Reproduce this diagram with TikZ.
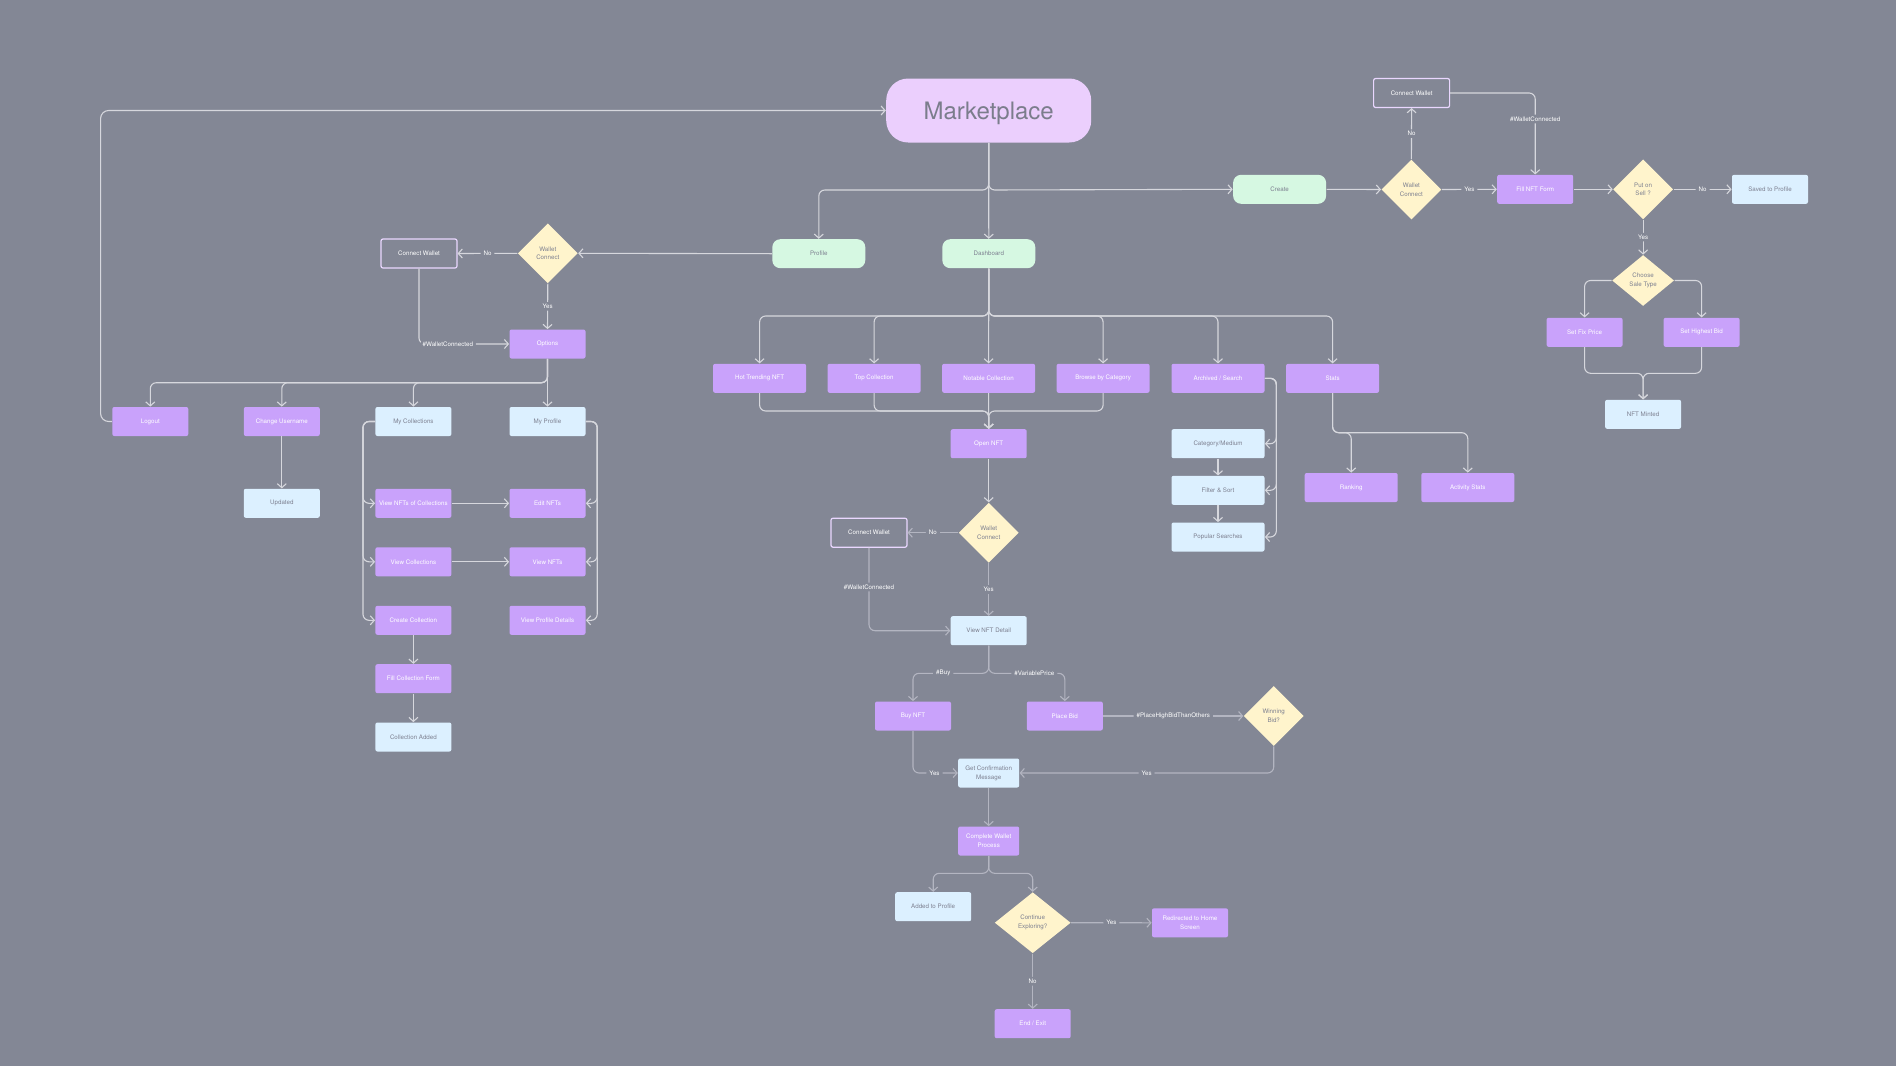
\documentclass[tikz,border=0pt]{standalone}
\usepackage{fontspec}
\setmainfont{TeX Gyre Heros}
\usetikzlibrary{shapes.geometric,arrows.meta}
\definecolor{bgc}{HTML}{838795}
\definecolor{purp}{HTML}{C9A2FB}
\definecolor{lblue}{HTML}{DCF0FF}
\definecolor{lgreen}{HTML}{D6F8E2}
\definecolor{lyel}{HTML}{FFF4CC}
\definecolor{mktfill}{HTML}{EBCFFD}
\definecolor{mkttext}{HTML}{7B7D8C}
\definecolor{tgray}{HTML}{7D8090}
\definecolor{lcol}{HTML}{D6D7DD}
\definecolor{dcol}{HTML}{B3B5C1}
\definecolor{lav}{HTML}{EAD7FF}
\begin{document}
\begin{tikzpicture}[x=0.5pt,y=-0.5pt,
  every node/.style={font=\fontsize{3.1}{4.4}\selectfont, align=center, inner sep=0pt},
  nbox/.style={rectangle, rounded corners=1pt, minimum width=38pt, minimum height=14.5pt},
  wbox/.style={minimum width=46.5pt},
  pbox/.style={nbox, fill=purp, text=white},
  bbox/.style={nbox, fill=lblue, text=tgray},
  gbox/.style={nbox, fill=lgreen, text=tgray, rounded corners=4pt, minimum width=46.5pt},
  obox/.style={nbox, draw=lav, line width=0.6pt, text=white},
  dia/.style={diamond, fill=lyel, text=tgray, minimum width=30pt, minimum height=30pt},
  conn/.style={draw=lcol, line width=0.55pt, rounded corners=3pt, -{Straight Barb[length=2pt,width=4.5pt]}},
  dconn/.style={conn, draw=dcol},
  lbl/.style={fill=bgc, text=white, inner xsep=1.5pt, inner ysep=1pt},
]
\fill[bgc] (0,0) rectangle (1896,1066);
\useasboundingbox (0,0) rectangle (1896,1066);

% ---------- nodes ----------
\node[fill=mktfill, rounded corners=11pt, minimum width=102.5pt, minimum height=32pt, text=mkttext, text depth=0pt, font=\fontsize{12}{14}\selectfont] (mkt) at (988.7,110.5) {Marketplace};

\node[gbox] (profile) at (818.8,253.7) {Profile};
\node[gbox] (dash) at (988.8,253.7) {Dashboard};
\node[gbox] (create) at (1279.6,189.3) {Create};

% profile branch
\node[dia] (wcL) at (547.8,253.3) {Wallet\\Connect};
\node[obox] (cwL) at (419,253.5) {Connect Wallet};
\node[pbox] (opt) at (547.5,344) {Options};
\node[pbox] (logout) at (150.3,421.5) {Logout};
\node[pbox] (change) at (281.8,421.5) {Change Username};
\node[bbox] (mycol) at (413.4,421.5) {My Collections};
\node[bbox] (myprof) at (547.5,421.5) {My Profile};
\node[bbox] (updated) at (281.8,503.3) {Updated};
\node[pbox] (vnoc) at (413.4,503.3) {View NFTs of Collections};
\node[pbox] (editnft) at (547.5,503.3) {Edit NFTs};
\node[pbox] (vcol) at (413.4,561.8) {View Collections};
\node[pbox] (viewnft) at (547.5,561.8) {View NFTs};
\node[pbox] (ccol) at (413.4,620.3) {Create Collection};
\node[pbox] (vprof) at (547.5,620.3) {View Profile Details};
\node[pbox] (fillcol) at (413.4,678.7) {Fill Collection Form};
\node[bbox] (coladd) at (413.4,737) {Collection Added};

% dashboard branch
\node[pbox,wbox] (hot) at (759.6,378.3) {Hot Trending NFT};
\node[pbox,wbox] (topc) at (874.1,378.3) {Top Collection};
\node[pbox,wbox] (notable) at (988.6,378.3) {Notable Collection};
\node[pbox,wbox] (browse) at (1103.1,378.3) {Browse by Category};
\node[pbox,wbox] (arch) at (1218,378.3) {Archived / Search};
\node[pbox,wbox] (stats) at (1332.6,378.3) {Stats};
\node[pbox] (open) at (988.7,443.7) {Open NFT};
\node[dia] (wcM) at (988.7,532.7) {Wallet\\Connect};
\node[obox] (cwM) at (869,532.7) {Connect Wallet};
\node[bbox] (vnd) at (988.7,630.7) {View NFT Detail};
\node[bbox,wbox] (catmed) at (1218,443.7) {Category/Medium};
\node[bbox,wbox] (filter) at (1218,490.3) {Filter \& Sort};
\node[bbox,wbox] (popular) at (1218,537) {Popular Searches};
\node[pbox,wbox] (ranking) at (1351.2,487.5) {Ranking};
\node[pbox,wbox] (activity) at (1467.8,487.5) {Activity Stats};

% create branch
\node[obox] (cwTR) at (1411.6,93) {Connect Wallet};
\node[dia] (wcTR) at (1411.4,189.5) {Wallet\\Connect};
\node[pbox] (fill) at (1535.2,189.3) {Fill NFT Form};
\node[dia] (putsell) at (1643.1,189.3) {Put on\\Sell ?};
\node[bbox] (saved) at (1770,189.3) {Saved to Profile};
\node[dia, minimum width=31pt, minimum height=25.5pt] (choose) at (1643.1,280.5) {Choose\\Sale Type};
\node[pbox] (setfix) at (1584.6,332.3) {Set Fix Price};
\node[pbox] (sethigh) at (1701.6,332.3) {Set Highest Bid};
\node[bbox] (minted) at (1643.1,414.3) {NFT Minted};

% buying flow
\node[pbox] (buy) at (913,716) {Buy NFT};
\node[pbox] (bid) at (1064.8,716) {Place Bid};
\node[dia] (win) at (1273.7,716) {Winning\\Bid?};
\node[bbox, minimum width=30.5pt] (getconf) at (988.7,773) {Get Confirmation\\Message};
\node[pbox, minimum width=30.5pt] (cwp) at (988.7,841) {Complete Wallet\\Process};
\node[bbox] (added) at (933.2,906.7) {Added to Profile};
\node[dia, minimum width=38pt, minimum height=30.5pt] (cont) at (1032.7,922.7) {Continue\\Exploring?};
\node[pbox] (redirect) at (1190,922.8) {Redirected to Home\\Screen};
\node[pbox] (endx) at (1032.7,1023.7) {End / Exit};

% ---------- connectors ----------
\coordinate (loopc) at (100.6,110.5);
\draw[conn, rounded corners=4pt] (logout.west) -| (loopc) -- (mkt.west);

\coordinate (mj) at (988.7,190);
\draw[conn] (mkt.south) -- (mj) -| (profile.north);
\draw[conn] (mkt.south) -- (dash.north);
\draw[conn] (mkt.south) -- (mj) -- (create.west);

\draw[conn] (profile.west) -- (wcL.east);
\draw[conn] (wcL.west) -- node[lbl]{No} (cwL.east);
\draw[conn] (wcL.south) -- node[lbl]{Yes} (opt.north);
\draw[conn] (cwL.south) |- node[lbl, pos=0.66]{\#WalletConnected} (opt.west);

\coordinate (oj) at (547.5,382.7);
\draw[conn] (opt.south) -- (oj) -| (logout.north);
\draw[conn] (opt.south) -- (oj) -| (change.north);
\draw[conn] (opt.south) -- (oj) -| (mycol.north);
\draw[conn] (opt.south) -- (myprof.north);
\draw[conn] (change.south) -- (updated.north);

\coordinate (mcl) at (363,421.5);
\draw[conn] (mycol.west) -- (mcl) |- (vnoc.west);
\draw[conn] (mycol.west) -- (mcl) |- (vcol.west);
\draw[conn] (mycol.west) -- (mcl) |- (ccol.west);
\coordinate (mpr) at (597.2,421.5);
\draw[conn] (myprof.east) -- (mpr) |- (editnft.east);
\draw[conn] (myprof.east) -- (mpr) |- (viewnft.east);
\draw[conn] (myprof.east) -- (mpr) |- (vprof.east);
\draw[conn] (vnoc.east) -- (editnft.west);
\draw[conn] (vcol.east) -- (viewnft.west);
\draw[conn] (ccol.south) -- (fillcol.north);
\draw[conn] (fillcol.south) -- (coladd.north);

\coordinate (dj) at (988.7,316);
\draw[conn] (dash.south) -- (dj) -| (hot.north);
\draw[conn] (dash.south) -- (dj) -| (topc.north);
\draw[conn] (dash.south) -- (notable.north);
\draw[conn] (dash.south) -- (dj) -| (browse.north);
\draw[conn] (dash.south) -- (dj) -| (arch.north);
\draw[conn] (dash.south) -- (dj) -| (stats.north);

\coordinate (oj2) at (988.7,411);
\draw[conn] (hot.south) |- (oj2) -- (open.north);
\draw[conn] (topc.south) |- (oj2) -- (open.north);
\draw[conn] (notable.south) -- (open.north);
\draw[conn] (browse.south) |- (oj2) -- (open.north);
\draw[conn] (open.south) -- (wcM.north);
\draw[dconn] (wcM.west) -- node[lbl]{No} (cwM.east);
\draw[dconn] (wcM.south) -- node[lbl]{Yes} (vnd.north);
\draw[dconn] (cwM.south) |- node[lbl, pos=0.237]{\#WalletConnected} (vnd.west);

\coordinate (ar) at (1276.3,378.3);
\draw[conn] (arch.east) -- (ar) |- (catmed.east);
\draw[conn] (arch.east) -- (ar) |- (filter.east);
\draw[conn] (arch.east) -- (ar) |- (popular.east);
\draw[conn] (catmed.south) -- (filter.north);
\draw[conn] (filter.south) -- (popular.north);

\coordinate (sj) at (1332.6,432.7);
\draw[conn] (stats.south) -- (sj) -| (ranking.north);
\draw[conn] (stats.south) -- (sj) -| (activity.north);

\draw[conn] (create.east) -- (wcTR.west);
\draw[conn] (wcTR.north) -- node[lbl]{No} (cwTR.south);
\draw[conn] (wcTR.east) -- node[lbl]{Yes} (fill.west);
\draw[conn] (cwTR.east) -| node[lbl, pos=0.66]{\#WalletConnected} (fill.north);
\draw[conn] (fill.east) -- (putsell.west);
\draw[conn] (putsell.east) -- node[lbl]{No} (saved.west);
\draw[conn] (putsell.south) -- node[lbl]{Yes} (choose.north);
\draw[conn] (choose.west) -| (setfix.north);
\draw[conn] (choose.east) -| (sethigh.north);
\coordinate (nj) at (1643.1,373.3);
\draw[conn] (setfix.south) |- (nj) -- (minted.north);
\draw[conn] (sethigh.south) |- (nj) -- (minted.north);

\coordinate (vj) at (988.7,673.3);
\draw[dconn] (vnd.south) -- (vj) -| node[lbl, pos=0.3]{\#Buy} (buy.north);
\draw[dconn] (vnd.south) -- (vj) -| node[lbl, pos=0.3]{\#VariablePrice} (bid.north);
\draw[dconn] (bid.east) -- node[lbl]{\#PlaceHighBidThanOthers} (win.west);
\draw[dconn] (buy.south) |- node[lbl, pos=0.74]{Yes} (getconf.west);
\draw[dconn] (win.south) |- node[lbl, pos=0.75]{Yes} (getconf.east);
\draw[dconn] (getconf.south) -- (cwp.north);
\coordinate (cj) at (988.7,873.3);
\draw[dconn] (cwp.south) -- (cj) -| (added.north);
\draw[dconn] (cwp.south) -- (cj) -| (cont.north);
\draw[dconn] (cont.east) -- node[lbl]{Yes} (redirect.west);
\draw[dconn] (cont.south) -- node[lbl]{No} (endx.north);
\end{tikzpicture}
\end{document}
